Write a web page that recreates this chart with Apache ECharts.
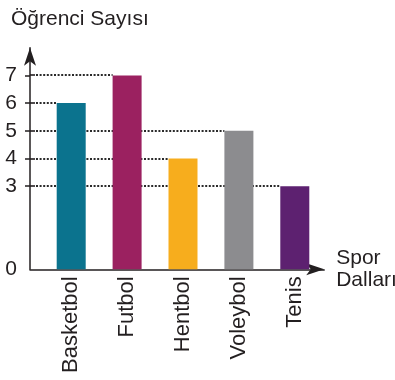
<!DOCTYPE html>
<html>
<head>
<meta charset="utf-8">
<script src="https://cdn.jsdelivr.net/npm/echarts@6/dist/echarts.min.js"></script>
<style>
html,body{margin:0;padding:0;background:#fff;}
#c{width:395px;height:380px;}
</style>
</head>
<body>
<div id="c"></div>
<script>
// ---- data ----
const categories = ['Basketbol', 'Futbol', 'Hentbol', 'Voleybol', 'Tenis'];
const values = [6, 7, 4, 5, 3];
const yLabelValues = [0, 3, 4, 5, 6, 7];
const yTickValues = [3, 4, 5, 6, 7];
const colors = ['#0b738e', '#9b2160', '#f7ad1d', '#8c8c8f', '#5d2170'];
const yTitle = 'Öğrenci Sayısı';
const xTitle = 'Spor\nDalları';

// ---- style / layout constants ----
const INK = '#231f20';
const FONT = 'Liberation Sans, Arial, Helvetica, sans-serif';
const X_MIN = -0.737, X_MAX = 4.526;
const Y_MIN = 0, Y_MAX = 8;
const BAR_W = 29;

const chart = echarts.init(document.getElementById('c'), null, {renderer: 'canvas'});

const barData = values.map((v, i) => ({value: [i, v], itemStyle: {color: colors[i]}}));
const guideData = values.map((v, i) => [i, v]);

chart.setOption({
  animation: false,
  backgroundColor: '#fff',
  textStyle: {fontFamily: FONT, color: INK},
  title: {
    text: yTitle,
    left: 6, top: 4,
    textStyle: {fontFamily: FONT, fontSize: 21, fontWeight: 'normal', color: INK}
  },
  grid: {left: 30, right: 70.8, top: 47.7, bottom: 110.7, containLabel: false, outerBoundsMode: 'none'},
  xAxis: {
    type: 'value',
    min: X_MIN, max: X_MAX,
    splitLine: {show: false},
    axisTick: {show: false},
    axisLine: {
      show: true, onZero: false,
      symbol: ['none', 'arrow'], symbolSize: [9, 18],
      lineStyle: {color: INK, width: 1.5}
    },
    axisLabel: {
      customValues: [0, 1, 2, 3, 4],
      formatter: v => categories[Math.round(v)] || '',
      rotate: 90, margin: 7,
      fontSize: 22, fontFamily: FONT, color: INK
    },
    name: xTitle,
    nameLocation: 'end', nameGap: 12,
    nameTextStyle: {fontSize: 21, fontFamily: FONT, color: INK, lineHeight: 22, align: 'left', verticalAlign: 'middle'}
  },
  yAxis: {
    type: 'value',
    min: Y_MIN, max: Y_MAX,
    splitLine: {show: false},
    axisLine: {
      show: true, onZero: false,
      symbol: ['none', 'arrow'], symbolSize: [9, 18],
      lineStyle: {color: INK, width: 1.5}
    },
    axisTick: {show: true, customValues: yTickValues, length: 5, lineStyle: {color: INK, width: 1.5}},
    axisLabel: {
      customValues: yLabelValues,
      margin: 13,
      fontSize: 21, fontFamily: FONT, color: INK
    }
  },
  series: [
    {
      type: 'custom',
      z: 1,
      clip: false,
      data: guideData,
      renderItem: function (params, api) {
        const i = api.value(0), v = api.value(1);
        const s = api.coord([X_MIN, v]);
        const e = api.coord([i, v]);
        const y = Math.round(s[1]);
        const x0 = Math.round(s[0]) + 6;
        return {
          type: 'group',
          children: [
            {type: 'line', shape: {x1: s[0], y1: y, x2: s[0] + 5, y2: y},
             style: {stroke: INK, lineWidth: 1.6}},
            {type: 'line', shape: {x1: x0, y1: y, x2: e[0] - BAR_W / 2, y2: y},
             style: {stroke: '#2a2a2a', lineWidth: 1.8, lineDash: [2, 1.6]}}
          ]
        };
      }
    },
    {
      type: 'bar',
      z: 2,
      barWidth: BAR_W,
      data: barData
    }
  ]
});
</script>
</body>
</html>
